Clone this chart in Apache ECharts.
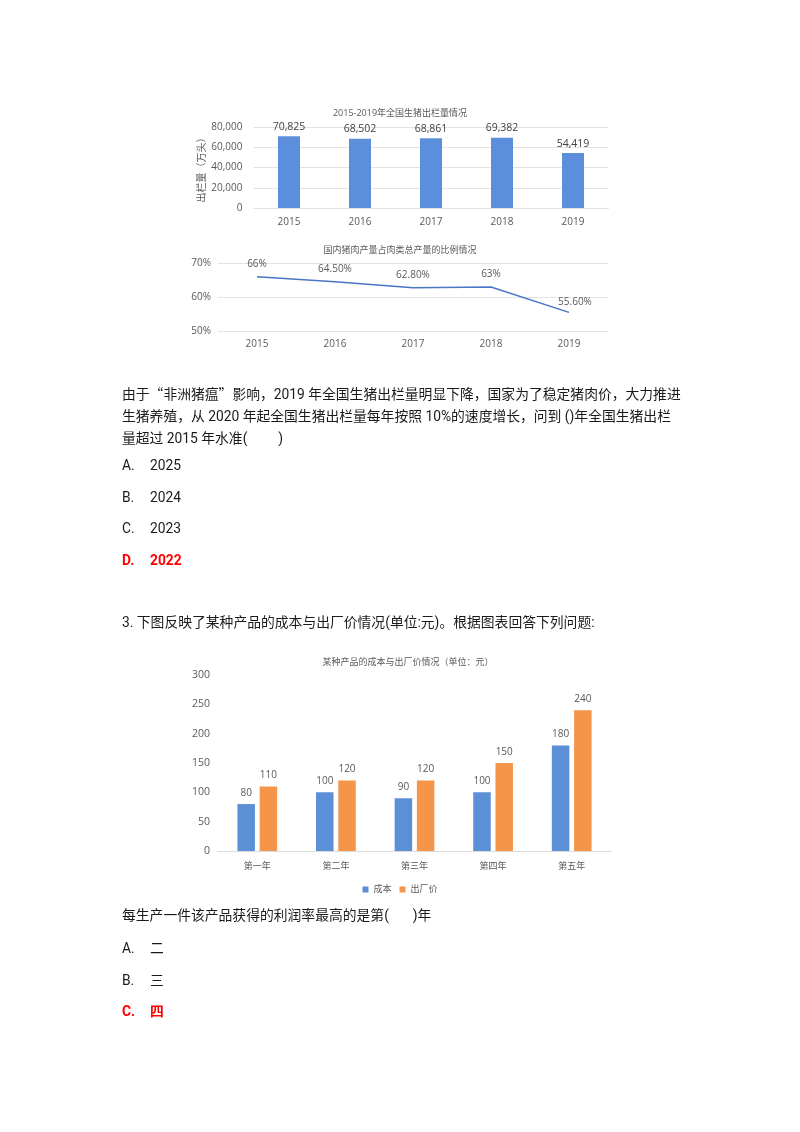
<!DOCTYPE html>
<html>
<head>
<meta charset="utf-8">
<script src="https://cdn.jsdelivr.net/npm/echarts@6/dist/echarts.min.js"></script>
<style>
  html, body { margin: 0; padding: 0; background: #fff; }
  #page { position: relative; width: 800px; height: 1132px; overflow: hidden; }
  #chart { position: absolute; left: 0; top: 0; width: 800px; height: 1132px; }
  .t { position: absolute; left: 122px; font-family: Roboto, "Noto Sans CJK SC", sans-serif;
       font-size: 13.8px; line-height: 20px; color: #1a1a1a; white-space: nowrap; }
  .q { font-family: "Noto Sans CJK SC", sans-serif; }
  .opt b { font-weight: normal; position: absolute; left: 28px; }
  .red { color: #ff0000; font-weight: bold; }
  .red b { font-weight: bold; }
</style>
</head>
<body>
<div id="page">
  <div id="chart"></div>
  <div class="t" style="top:383px">由于<span class="q">“</span>非洲猪瘟<span class="q">”</span>影响，2019 年全国生猪出栏量明显下降，国家为了稳定猪肉价，大力推进</div>
  <div class="t" style="top:406px">生猪养殖，从 2020 年起全国生猪出栏量每年按照 10%的速度增长，问到 ()年全国生猪出栏</div>
  <div class="t" style="top:428px">量超过 2015 年水准(&nbsp;&nbsp;&nbsp;&nbsp;&nbsp;&nbsp;&nbsp;&nbsp;&nbsp;)</div>
  <div class="t opt" style="top:455px">A.<b>2025</b></div>
  <div class="t opt" style="top:487px">B.<b>2024</b></div>
  <div class="t opt" style="top:518px">C.<b>2023</b></div>
  <div class="t opt red" style="top:550px">D.<b>2022</b></div>
  <div class="t" style="top:612px">3. 下图反映了某种产品的成本与出厂价情况(单位:元)。根据图表回答下列问题:</div>
  <div class="t" style="top:905px">每生产一件该产品获得的利润率最高的是第(&nbsp;&nbsp;&nbsp;&nbsp;&nbsp;&nbsp;&nbsp;)年</div>
  <div class="t opt" style="top:938px">A.<b>二</b></div>
  <div class="t opt" style="top:970px">B.<b>三</b></div>
  <div class="t opt red" style="top:1001px">C.<b>四</b></div>
</div>
<script>
// chart data
var pigYears = ['2015', '2016', '2017', '2018', '2019'];
var pigOutput = [70825, 68502, 68861, 69382, 54419];
var porkShare = [0.66, 0.645, 0.628, 0.63, 0.556];
var porkShareLabels = ['66%', '64.50%', '62.80%', '63%', '55.60%'];
var productYears = ['第一年', '第二年', '第三年', '第四年', '第五年'];
var costValues = [80, 100, 90, 100, 180];
var priceValues = [110, 120, 120, 150, 240];

var font = '"Open Sans", "Noto Sans CJK SC", sans-serif';
var gray = '#595959';
var gridLine = { show: true, lineStyle: { color: '#e3e3e3', width: 1 } };

var chart = echarts.init(document.getElementById('chart'));

var titleStyle = { fontSize: 9, fontWeight: 'normal', color: gray, fontFamily: font };

var option = {
  animation: false,
  textStyle: { fontFamily: font },
  title: [
    { text: '2015-2019年全国生猪出栏量情况', left: 'center', top: 104, textStyle: titleStyle },
    { text: '国内猪肉产量占肉类总产量的比例情况', left: 'center', top: 241, textStyle: titleStyle },
    { text: '某种产品的成本与出厂价情况（单位：元）', left: 403, top: 653, textAlign: 'center',
      textStyle: titleStyle }
  ],
  legend: {
    data: ['成本', '出厂价'],
    left: 'center', top: 880,
    itemWidth: 6, itemHeight: 6, itemGap: 8, icon: 'rect',
    textStyle: { fontSize: 9, color: gray, fontFamily: font }
  },
  grid: [
    { left: 253.5, width: 355, top: 127, height: 81 },
    { left: 218, width: 390, top: 263, height: 68.6 },
    { left: 218, width: 393, top: 675, height: 176 }
  ],
  xAxis: [
    { type: 'category', gridIndex: 0, data: pigYears,
      axisLine: { lineStyle: { color: '#e3e3e3' } }, axisTick: { show: false },
      axisLabel: { color: gray, fontSize: 10, margin: 9 } },
    { type: 'category', gridIndex: 1, data: pigYears,
      axisLine: { show: false }, axisTick: { show: false },
      axisLabel: { color: gray, fontSize: 10, margin: 8 } },
    { type: 'category', gridIndex: 2, data: productYears,
      axisLine: { lineStyle: { color: '#dcdcdc' } }, axisTick: { show: false },
      axisLabel: { color: gray, fontSize: 9, margin: 11 } }
  ],
  yAxis: [
    { type: 'value', gridIndex: 0, min: 0, max: 80000, interval: 20000,
      name: '出栏量（万头）', nameLocation: 'middle', nameGap: 40, nameRotate: 90,
      nameTextStyle: { color: gray, fontSize: 10 },
      axisLine: { show: false }, axisTick: { show: false }, splitLine: gridLine,
      axisLabel: { color: gray, fontSize: 10, margin: 11,
        formatter: function (v) { return v.toLocaleString('en-US'); } } },
    { type: 'value', gridIndex: 1, min: 0.5, max: 0.7, interval: 0.1,
      axisLine: { show: false }, axisTick: { show: false }, splitLine: gridLine,
      axisLabel: { color: gray, fontSize: 10, margin: 7,
        formatter: function (v) { return Math.round(v * 100) + '%'; } } },
    { type: 'value', gridIndex: 2, min: 0, max: 300, interval: 50,
      axisLine: { show: false }, axisTick: { show: false }, splitLine: { show: false },
      axisLabel: { color: gray, fontSize: 10.5, margin: 8 } }
  ],
  series: [
    {
      name: '出栏量', type: 'bar', xAxisIndex: 0, yAxisIndex: 0,
      data: pigOutput, barWidth: 22,
      itemStyle: { color: '#5b8fdc' },
      label: { show: true, position: 'top', distance: 4, color: '#404040', fontSize: 10.5,
        formatter: function (p) { return p.value.toLocaleString('en-US'); } }
    },
    {
      name: '比例', type: 'line', xAxisIndex: 1, yAxisIndex: 1,
      data: porkShare.map(function (v, i) {
        var d = { value: v };
        if (i === porkShare.length - 1) d.label = { offset: [6, 0], distance: 5 };
        return d;
      }),
      symbol: 'circle', symbolSize: 1,
      itemStyle: { color: 'rgba(0,0,0,0)' },
      lineStyle: { color: '#4a76c6', width: 1.5 },
      label: { show: true, position: 'top', distance: 7, color: gray, fontSize: 10,
        formatter: function (p) { return porkShareLabels[p.dataIndex]; } }
    },
    {
      name: '成本', type: 'bar', xAxisIndex: 2, yAxisIndex: 2,
      data: costValues, barWidth: 17.5, barGap: '27%',
      itemStyle: { color: '#5b8fd6' },
      label: { show: true, position: 'top', distance: 6, color: gray, fontSize: 10 }
    },
    {
      name: '出厂价', type: 'bar', xAxisIndex: 2, yAxisIndex: 2,
      data: priceValues, barWidth: 17.5, barGap: '27%',
      itemStyle: { color: '#f5954a' },
      label: { show: true, position: 'top', distance: 6, color: gray, fontSize: 10 }
    }
  ]
};

chart.setOption(option);
</script>
</body>
</html>
